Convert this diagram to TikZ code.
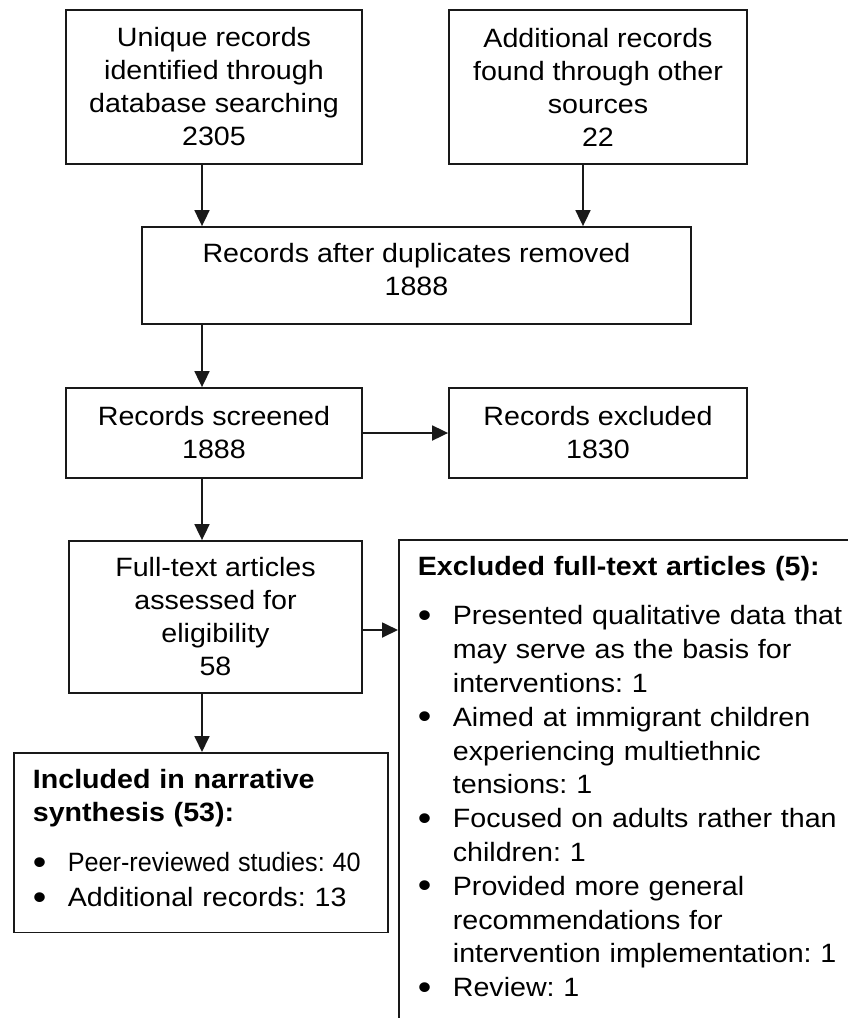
\documentclass[tikz,border=0pt]{standalone}
\usepackage{fontspec}
\usepackage{graphicx}
\setmainfont{Liberation Sans}[FakeStretch=1.08]
\usetikzlibrary{arrows.meta,positioning}
\tikzset{
  box/.style={draw=black!90, line width=1.8pt, inner sep=4pt, align=center, font=\fontsize{26.5}{33}\selectfont},
  listbox/.style={draw=black!90, line width=1.8pt, anchor=north west, inner xsep=19pt, inner ysep=16pt, align=left, font=\fontsize{26.5}{33.8}\selectfont},
  flow/.style={-{Triangle[length=16pt,width=15pt]}, line width=1.8pt, black!90}
}
\newcommand{\bul}{\makebox[35pt][l]{\raisebox{-2.6pt}{\scalebox{1.35}{\textbullet}}}}
\newcommand{\cont}{\hspace*{35pt}}
\frenchspacing

\begin{document}
\begin{tikzpicture}[x=1pt,y=-1pt]
  \useasboundingbox (0,0) rectangle (848,1018);
  \clip (0,0) rectangle (848,1018);
  % identification
  \node[box, minimum width=296pt, minimum height=154pt] (unique) at (214,87)
    {Unique records\\identified through\\database searching\\2305};
  \node[box, minimum width=298pt, minimum height=154pt] (other) at (598,87)
    {Additional records\\found through other\\sources\\22};
  \node[box, minimum width=549pt, minimum height=97pt] (dupl) at (416.5,275.5)
    {Records after duplicates removed\\1888\rule[-13pt]{0pt}{0pt}};
  % screening
  \node[box, minimum width=296pt, minimum height=90pt] (screen) at (214,433)
    {Records screened\\1888};
  \node[box, minimum width=298pt, minimum height=90pt] (excl) at (598,433)
    {Records excluded\\1830};
  % eligibility
  \node[box, minimum width=293pt, minimum height=152pt] (fulltext) at (215.5,617)
    {Full-text articles\\assessed for\\eligibility\\58};
  \node[listbox, text width=430pt] (exclft) at (398,539)
    {\textbf{Excluded full-text articles (5):}\\[16pt]
     \bul Presented qualitative data that\\
     \cont may serve as the basis for\\
     \cont interventions: 1\\
     \bul Aimed at immigrant children\\
     \cont experiencing multiethnic\\
     \cont tensions: 1\\
     \bul Focused on adults rather than\\
     \cont children: 1\\
     \bul Provided more general\\
     \cont recommendations for\\
     \cont intervention implementation: 1\\
     \bul Review: 1\rule[-50pt]{0pt}{0pt}};
  % included
  \node[listbox, text width=336pt] (incl) at (13,752)
    {\textbf{Included in narrative}\\
     \textbf{synthesis (53):}\\[16pt]
     \bul \scalebox{0.88}[1]{Peer-reviewed studies: 40}\\[1pt]
     \bul Additional records: 13\rule[-10pt]{0pt}{0pt}};
  % connectors
  \coordinate (spine) at (202,0);
  \coordinate (side) at (583,0);
  \draw[flow] (unique.south -| spine) -- (dupl.north -| spine);
  \draw[flow] (other.south -| side) -- (dupl.north -| side);
  \draw[flow] (dupl.south -| spine) -- (screen.north -| spine);
  \draw[flow] (screen.east) -- (excl.west);
  \draw[flow] (screen.south -| spine) -- (fulltext.north -| spine);
  \draw[flow] ([yshift=-13pt]fulltext.east) -- ([yshift=-13pt]fulltext.east -| exclft.west);
  \draw[flow] (fulltext.south -| spine) -- (incl.north -| spine);
\end{tikzpicture}
\end{document}
